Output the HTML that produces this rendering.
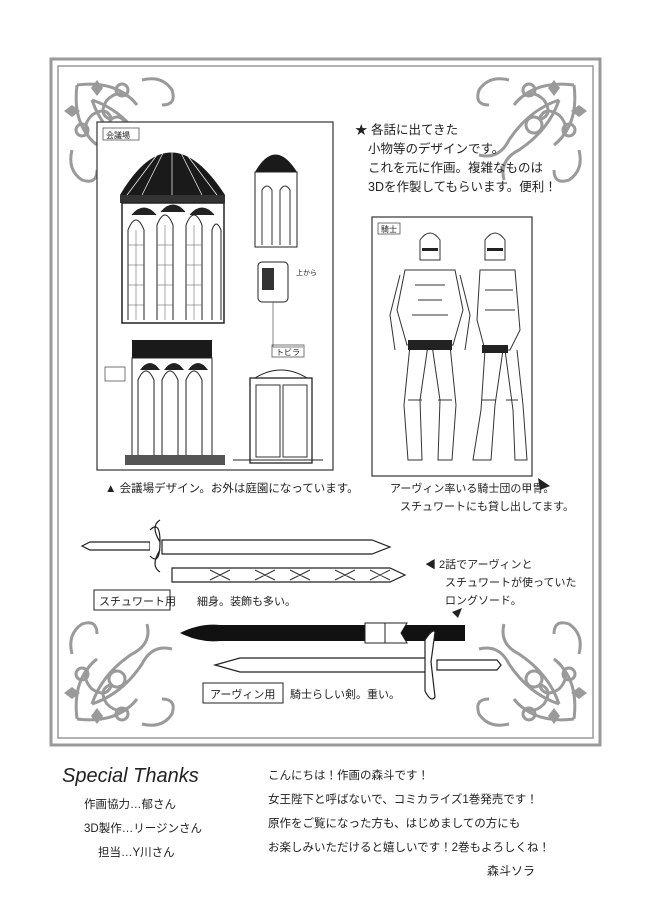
<!DOCTYPE html>
<html><head><meta charset="utf-8"><style>
body{margin:0;background:#fff}
svg{display:block}
text{font-family:"Liberation Sans","Noto Sans CJK JP",sans-serif;fill:#222}
</style></head><body>
<svg width="650" height="924" viewBox="0 0 650 924" xmlns="http://www.w3.org/2000/svg">
<defs>
<g id="orn" fill="none" stroke="#9a9a9a" stroke-width="3">
<path d="M15 15 q40 -5 60 20 q-15 -20 -30 -5 q-10 15 5 20"/>
<path d="M15 15 q-5 40 20 60 q-20 -15 -5 -30 q15 -10 20 5"/>
<path d="M30 30 q30 10 50 40 q10 20 30 15"/>
<path d="M30 30 q10 30 40 50 q20 10 15 30"/>
<circle cx="60" cy="20" r="6"/><circle cx="20" cy="60" r="6"/>
<circle cx="55" cy="55" r="8"/>
<path d="M35 10 l6 8 l-6 8 l-6 -8z" fill="#9a9a9a" stroke="none"/>
<path d="M10 35 l8 6 l-8 6 l-8 -6z" fill="#9a9a9a" stroke="none"/>
<path d="M80 10 q20 -5 30 10 q5 15 -10 15"/>
<path d="M10 80 q-5 20 10 30 q15 5 15 -10"/>
</g>
</defs>
<rect x="51" y="59" width="549" height="686" fill="none" stroke="#9a9a9a" stroke-width="3"/>
<rect x="58" y="66" width="535" height="672" fill="none" stroke="#9a9a9a" stroke-width="1.5"/>
<use href="#orn" transform="translate(62,70)"/>
<use href="#orn" transform="translate(589,70) scale(-1,1)"/>
<use href="#orn" transform="translate(62,734) scale(1,-1)"/>
<use href="#orn" transform="translate(589,734) scale(-1,-1)"/>

<rect x="97" y="122" width="236" height="348" fill="#fff" stroke="#333" stroke-width="1.2"/>
<rect x="103" y="128" width="36" height="12" fill="none" stroke="#555" stroke-width="0.8"/>
<text x="106" y="138" font-size="8">会議場</text>
<path d="M120 195 q50 -85 105 0 z" fill="#1a1a1a"/>
<path d="M120 195 h105 v8 h-105z" fill="#333"/>
<g stroke="#fff" stroke-width="0.7"><path d="M172 135 v60 M172 135 l-30 60 M172 135 l30 60 M172 135 l-45 60 M172 135 l45 60"/></g>
<rect x="122" y="203" width="102" height="120" fill="#fff" stroke="#222" stroke-width="1.5"/>
<g fill="none" stroke="#222" stroke-width="1">
<path d="M128 320 v-90 q8 -20 16 0 v90"/><path d="M157 320 v-95 q8 -20 16 0 v95"/><path d="M186 320 v-95 q8 -20 16 0 v95"/><path d="M212 320 v-90 q4 -12 9 0 v90"/>
</g>
<g stroke="#555" stroke-width="0.5"><path d="M128 245 h16 M128 265 h16 M128 285 h16 M128 305 h16 M157 245 h16 M157 265 h16 M157 285 h16 M157 305 h16 M186 245 h16 M186 265 h16 M186 285 h16 M186 305 h16 M136 230 v90 M165 225 v95 M194 225 v95"/></g>
<path d="M132 215 q12 -14 24 0 M161 212 q12 -14 24 0 M190 215 q12 -14 24 0" fill="#222" stroke="#222"/>
<path d="M255 172 q20 -35 42 0 z" fill="#1a1a1a"/>
<rect x="255" y="172" width="42" height="75" fill="#fff" stroke="#222"/>
<path d="M262 245 v-55 q5 -8 10 0 v55 M280 245 v-55 q5 -8 10 0 v55" fill="none" stroke="#333"/>
<rect x="258" y="262" width="30" height="40" rx="4" fill="#fff" stroke="#222"/>
<rect x="262" y="268" width="12" height="22" fill="#333"/>
<text x="296" y="275" font-size="7">上から</text>
<path d="M273 302 v45 h30" fill="none" stroke="#555" stroke-width="0.7"/>
<rect x="272" y="345" width="32" height="12" fill="none" stroke="#555" stroke-width="0.8"/>
<text x="276" y="355" font-size="8">トビラ</text>
<rect x="132" y="340" width="80" height="18" fill="#1a1a1a"/>
<rect x="132" y="358" width="80" height="100" fill="#fff" stroke="#222"/>
<path d="M138 455 v-75 q8 -18 16 0 v75 M162 455 v-75 q8 -18 16 0 v75 M186 455 v-75 q8 -18 16 0 v75" fill="none" stroke="#222"/>
<path d="M140 370 q10 -14 20 0 M164 370 q10 -14 20 0 M188 370 q10 -14 20 0" fill="#222"/>
<rect x="125" y="455" width="100" height="10" fill="#555"/>
<rect x="105" y="367" width="20" height="14" fill="none" stroke="#555" stroke-width="0.8"/>
<rect x="250" y="378" width="62" height="85" fill="#fff" stroke="#222" stroke-width="1.3"/>
<rect x="256" y="385" width="24" height="72" fill="none" stroke="#333"/><rect x="283" y="385" width="24" height="72" fill="none" stroke="#333"/>
<path d="M255 378 q26 -16 52 0" fill="none" stroke="#222"/>
<path d="M233 460 h90" stroke="#222"/>

<rect x="372" y="217" width="160" height="259" fill="#fff" stroke="#333" stroke-width="1.2"/>
<rect x="378" y="223" width="22" height="11" fill="none" stroke="#555" stroke-width="0.8"/>
<text x="381" y="232" font-size="8">騎士</text>
<g fill="none" stroke="#333" stroke-width="1">
<path d="M420 240 q10 -14 20 0 v20 h-20z"/><path d="M405 270 h50 l8 40 l-10 35 h-46 l-10 -35z"/>
<path d="M410 345 l-6 60 l4 55 h14 l-2 -60 l8 -55 M450 345 l6 60 l-4 55 h-14 l2 -60 l-8 -55"/>
<path d="M400 275 l-10 40 l5 35 M460 275 l10 40 l-5 35"/>
<path d="M415 285 h30 M418 300 h24 M412 315 h36 M408 400 h14 M438 400 h14"/>
<path d="M485 240 q10 -14 20 0 v20 h-20z"/><path d="M480 270 h35 l5 60 l-10 20 h-25 l-8 -30z"/>
<path d="M485 350 l-4 60 l-8 50 h18 l4 -55 l8 -55 M505 350 l8 60 l2 50 h12 l-4 -55 l-6 -55"/>
<path d="M485 290 h28 M485 310 h30 M482 400 h14 M506 400 h12"/>
</g>
<path d="M408 340 h44 v10 h-44z M482 345 h26 v8 h-26z M422 248 h16 v3 h-16z M487 248 h16 v3 h-16z" fill="#222"/>

<text font-size="12.5"><tspan x="355" y="134">★ 各話に出てきた</tspan><tspan x="368" y="153">小物等のデザインです。</tspan><tspan x="368" y="172">これを元に作画。複雑なものは</tspan><tspan x="368" y="191">3Dを作製してもらいます。便利！</tspan></text>
<text x="105" y="492" font-size="11.5">▲ 会議場デザイン。お外は庭園になっています。</text>
<text font-size="11"><tspan x="390" y="492">アーヴィン率いる騎士団の甲冑。</tspan><tspan x="400" y="510">スチュワートにも貸し出してます。</tspan></text>
<path d="M538 478 l12 8 l-10 4z" fill="#222"/>
<text font-size="11"><tspan x="425" y="568">◀ 2話でアーヴィンと</tspan><tspan x="445" y="586">スチュワートが使っていた</tspan><tspan x="445" y="604">ロングソード。</tspan></text>
<path d="M452 612 l10 -4 l-4 10z" fill="#222"/>

<g fill="#fff" stroke="#222" stroke-width="1.2">
<path d="M82 546 l8 -4 h60 v8 h-60z"/>
<path d="M150 530 q10 -10 10 12 q0 24 -10 14 M160 542 q-10 -16 0 -22 M160 550 q-10 16 0 22"/>
<path d="M162 540 h210 l18 7 l-18 7 h-210z"/>
<path d="M172 568 h218 l15 7 l-15 7 h-218z"/>
</g>
<g stroke="#333" stroke-width="1"><path d="M210 570 l20 10 M230 570 l-20 10 M255 570 l20 10 M275 570 l-20 10 M290 570 l20 10 M310 570 l-20 10 M335 570 l20 10 M355 570 l-20 10 M370 570 l20 10 M390 570 l-20 10"/></g>
<rect x="94" y="590" width="76" height="20" fill="none" stroke="#222"/>
<text x="99" y="605" font-size="11">スチュワート用</text>
<text x="197" y="605" font-size="11">細身。装飾も多い。</text>
<path d="M180 633 q20 -10 40 -8 h245 v16 h-245 q-20 2 -40 -8z" fill="#111"/>
<path d="M365 623 h20 v20 h-20z" fill="#fff" stroke="#222"/>
<path d="M385 623 h22 l-6 10 l6 10 h-22z" fill="#fff" stroke="#222"/>
<g fill="#fff" stroke="#222" stroke-width="1.2">
<path d="M215 665 l25 -7 h190 v14 h-190z"/>
<path d="M425 640 q8 -12 10 -8 l-4 30 l4 35 q-4 6 -10 -6z"/>
<path d="M437 660 h60 l4 5 l-4 5 h-60z"/>
</g>
<rect x="203" y="683" width="80" height="20" fill="none" stroke="#222"/>
<text x="210" y="698" font-size="11">アーヴィン用</text>
<text x="290" y="698" font-size="11">騎士らしい剣。重い。</text>

<text x="62" y="782" font-size="20" font-style="italic" font-family="Liberation Serif,serif">Special Thanks</text>
<text font-size="11.5"><tspan x="84" y="808">作画協力…郁さん</tspan><tspan x="84" y="832">3D製作…リージンさん</tspan><tspan x="98" y="856">担当…Y川さん</tspan></text>
<text font-size="11.5"><tspan x="268" y="779">こんにちは！作画の森斗です！</tspan><tspan x="268" y="803">女王陛下と呼ばないで、コミカライズ1巻発売です！</tspan><tspan x="268" y="827">原作をご覧になった方も、はじめましての方にも</tspan><tspan x="268" y="851">お楽しみいただけると嬉しいです！2巻もよろしくね！</tspan></text>
<text x="487" y="875" font-size="12">森斗ソラ</text>
</svg>
</body></html>
